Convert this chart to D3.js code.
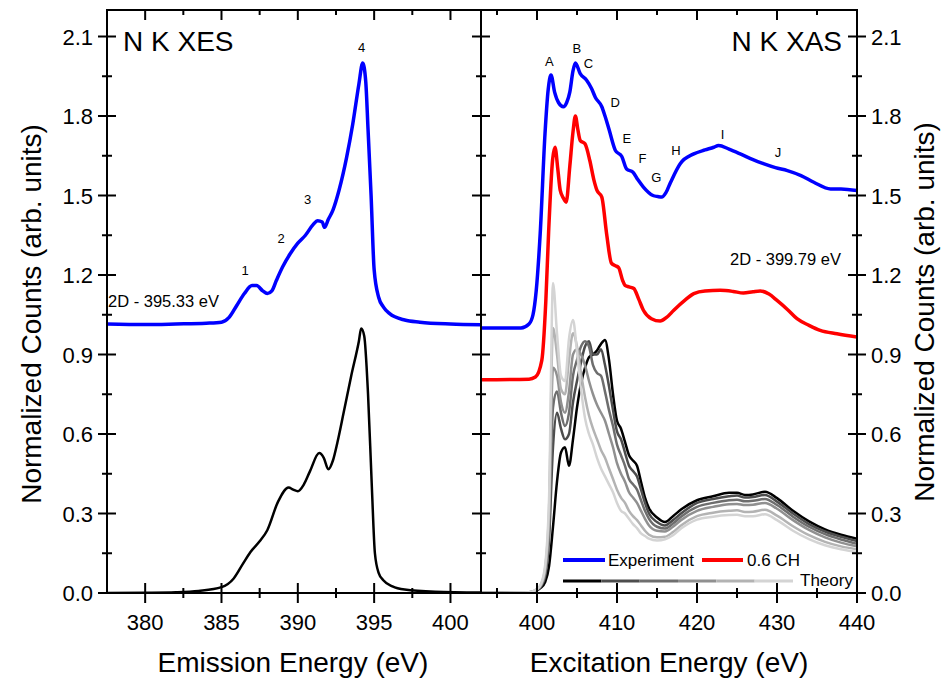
<!DOCTYPE html>
<html>
<head>
<meta charset="utf-8">
<script src="https://cdn.jsdelivr.net/npm/d3@7"></script>
<style>
  body { margin: 0; background: #fff; }
  svg text { font-family: "Liberation Sans", Arial, sans-serif; fill: #000; }
</style>
</head>
<body>
<script>
// ---- data: N K XES (left panel) ----
const xesEnergy = [377.5, 380, 382, 384, 385, 385.5, 386, 386.5, 387, 387.3, 387.7, 388, 388.3, 388.6, 389, 389.5, 390, 390.5, 391, 391.3, 391.6, 391.75, 392, 392.3, 392.7, 393.2, 393.6, 394.0, 394.25, 394.45, 394.6, 394.8, 395.0, 395.3, 395.6, 396, 397, 398, 400, 402];
const xesExperiment = [1.015, 1.013, 1.015, 1.018, 1.022, 1.04, 1.085, 1.13, 1.16, 1.16, 1.14, 1.13, 1.14, 1.18, 1.23, 1.28, 1.32, 1.35, 1.39, 1.405, 1.40, 1.38, 1.41, 1.445, 1.52, 1.645, 1.77, 1.92, 2.0, 1.93, 1.75, 1.5, 1.22, 1.115, 1.08, 1.055, 1.03, 1.022, 1.015, 1.012];

const xesTheoryEnergy = [377.5, 380, 382, 383.5, 385, 385.8, 386.4, 386.9, 387.5, 388, 388.7, 389.4, 389.7, 390, 390.4, 390.8, 391.4, 391.7, 392.0, 392.3, 392.6, 393, 393.5, 394.0, 394.15, 394.35, 394.6, 394.85, 395.05, 395.3, 395.6, 396.2, 397, 399, 402];
const xesTheory = [0, 0.001, 0.003, 0.008, 0.022, 0.055, 0.11, 0.155, 0.195, 0.237, 0.344, 0.398, 0.39, 0.384, 0.41, 0.46, 0.528, 0.51, 0.467, 0.50, 0.57, 0.68, 0.82, 0.95, 0.998, 0.97, 0.75, 0.4, 0.15, 0.075, 0.048, 0.025, 0.013, 0.005, 0.002];

const xesPeakLabels = ["1", "2", "3", "4"];
const xesPeakEnergy = [386.54, 388.9, 390.64, 394.18];
const xesPeakValue = [1.218, 1.338, 1.485, 2.062];

// ---- data: N K XAS (right panel) ----
const xasEnergy = [393, 398, 399, 399.5, 399.9, 400.4, 401, 401.4, 401.75, 402.2, 402.7, 403.3, 403.7, 404.1, 404.5, 404.8, 405.4, 406.2, 406.8, 407.3, 408.1, 408.5, 409, 409.8, 410.6, 411.2, 412, 412.6, 413.3, 414.5, 415.1, 415.6, 416.1, 416.7, 417.9, 419.6, 421, 422.1, 422.7, 424, 425.4, 427, 428.3, 429.8, 431.3, 433, 434.6, 436.7, 438, 440];
const xasExperiment = [1.0, 1.0, 1.015, 1.05, 1.14, 1.356, 1.733, 1.90, 1.955, 1.89, 1.85, 1.835, 1.85, 1.89, 1.97, 2.0, 1.96, 1.935, 1.905, 1.87, 1.835, 1.8, 1.75, 1.67, 1.647, 1.60, 1.588, 1.56, 1.532, 1.50, 1.496, 1.494, 1.51, 1.55, 1.62, 1.657, 1.672, 1.682, 1.689, 1.675, 1.657, 1.635, 1.62, 1.605, 1.594, 1.575, 1.55, 1.525, 1.525, 1.519];

const chEnergy = [393, 399, 399.8, 400.6, 401.1, 401.45, 401.95, 402.25, 402.6, 402.9, 403.3, 403.65, 404.1, 404.5, 404.8, 405.1, 405.4, 406.0, 406.6, 407.1, 407.5, 408.1, 408.7, 409.3, 409.8, 410.2, 410.7, 411.0, 411.5, 412.1, 412.7, 413.3, 414.3, 415.4, 416.2, 417.1, 418.5, 419.6, 421, 422.9, 424.5, 425.8, 427, 427.9, 429, 430, 431.3, 432.5, 434, 435.4, 437.5, 440];
const chValue = [0.805, 0.807, 0.815, 0.878, 1.1, 1.36, 1.635, 1.682, 1.6, 1.52, 1.49, 1.475, 1.61, 1.74, 1.80, 1.75, 1.708, 1.695, 1.632, 1.56, 1.519, 1.494, 1.356, 1.245, 1.235, 1.228, 1.18, 1.161, 1.155, 1.149, 1.11, 1.067, 1.035, 1.026, 1.04, 1.067, 1.105, 1.13, 1.14, 1.142, 1.138, 1.132, 1.137, 1.14, 1.128, 1.104, 1.07, 1.035, 1.01, 0.991, 0.978, 0.966];

const theoryEnergy = [393, 399, 400, 400.5, 401, 401.5, 402, 402.5, 403, 403.5, 404, 404.5, 405, 405.5, 406, 406.5, 407, 407.5, 408, 408.5, 409, 409.5, 410, 410.5, 411, 411.5, 412, 412.5, 413, 413.5, 414, 415, 416, 417, 418, 420, 422, 424, 425, 426, 427, 428.5, 430, 432, 434, 436, 438, 440];
const theory0 = [0, 0.002, 0.01, 0.02, 0.04, 0.10, 0.25, 0.42, 0.53, 0.55, 0.48, 0.58, 0.70, 0.79, 0.85, 0.89, 0.90, 0.915, 0.94, 0.955, 0.88, 0.75, 0.65, 0.62, 0.57, 0.52, 0.50, 0.48, 0.42, 0.36, 0.32, 0.285, 0.268, 0.29, 0.315, 0.35, 0.365, 0.378, 0.378, 0.37, 0.372, 0.382, 0.358, 0.31, 0.27, 0.24, 0.22, 0.205];
const theory1 = [0, 0.002, 0.012, 0.025, 0.06, 0.2, 0.55, 0.68, 0.62, 0.58, 0.60, 0.72, 0.80, 0.87, 0.93, 0.95, 0.90, 0.90, 0.92, 0.86, 0.78, 0.69, 0.61, 0.58, 0.53, 0.48, 0.46, 0.44, 0.39, 0.34, 0.30, 0.268, 0.255, 0.275, 0.30, 0.34, 0.355, 0.365, 0.368, 0.36, 0.362, 0.37, 0.345, 0.30, 0.26, 0.232, 0.212, 0.196];
const theory2 = [0, 0.002, 0.013, 0.028, 0.07, 0.24, 0.70, 0.76, 0.68, 0.63, 0.68, 0.82, 0.88, 0.93, 0.95, 0.93, 0.86, 0.83, 0.82, 0.76, 0.69, 0.63, 0.56, 0.52, 0.48, 0.43, 0.41, 0.39, 0.35, 0.31, 0.28, 0.25, 0.243, 0.262, 0.288, 0.325, 0.34, 0.35, 0.352, 0.346, 0.348, 0.355, 0.332, 0.288, 0.25, 0.222, 0.202, 0.186];
const theory3 = [0, 0.003, 0.013, 0.03, 0.08, 0.27, 0.85, 0.82, 0.72, 0.68, 0.76, 0.90, 0.92, 0.90, 0.86, 0.80, 0.75, 0.71, 0.68, 0.65, 0.60, 0.55, 0.49, 0.45, 0.42, 0.38, 0.36, 0.34, 0.31, 0.28, 0.255, 0.235, 0.232, 0.25, 0.275, 0.31, 0.325, 0.335, 0.336, 0.332, 0.333, 0.34, 0.318, 0.275, 0.238, 0.21, 0.19, 0.176];
const theory4 = [0, 0.003, 0.014, 0.032, 0.09, 0.31, 1.0, 0.90, 0.77, 0.75, 0.88, 0.98, 0.93, 0.83, 0.74, 0.67, 0.62, 0.58, 0.54, 0.51, 0.47, 0.43, 0.39, 0.36, 0.34, 0.31, 0.29, 0.275, 0.255, 0.235, 0.22, 0.21, 0.212, 0.23, 0.255, 0.29, 0.303, 0.31, 0.312, 0.306, 0.307, 0.314, 0.292, 0.252, 0.218, 0.193, 0.176, 0.165];
const theory5 = [0, 0.003, 0.015, 0.035, 0.10, 0.35, 1.17, 0.98, 0.82, 0.80, 0.96, 1.03, 0.91, 0.77, 0.66, 0.60, 0.56, 0.51, 0.47, 0.44, 0.41, 0.38, 0.34, 0.31, 0.30, 0.28, 0.26, 0.245, 0.225, 0.215, 0.205, 0.198, 0.203, 0.218, 0.243, 0.277, 0.288, 0.294, 0.295, 0.29, 0.29, 0.297, 0.275, 0.235, 0.203, 0.18, 0.165, 0.155];
const theoryColors = ["#000000", "#4d4d4d", "#6e6e6e", "#909090", "#b3b3b3", "#d4d4d4"];

const xasPeakLabels = ["A", "B", "C", "D", "E", "F", "G", "H", "I", "J"];
const xasPeakEnergy = [401.55, 404.98, 406.43, 409.77, 411.23, 413.19, 414.9, 417.37, 423.2, 430.13];
const xasPeakValue = [2.006, 2.055, 2.0, 1.852, 1.716, 1.642, 1.569, 1.67, 1.733, 1.663];

// ticks
const yMajor = [0, 0.3, 0.6, 0.9, 1.2, 1.5, 1.8, 2.1];
const yMinor = [0.15, 0.45, 0.75, 1.05, 1.35, 1.65, 1.95];
const xesMajor = [380, 385, 390, 395, 400];
const xesMinor = [382.5, 387.5, 392.5, 397.5];
const xasMajor = [400, 410, 420, 430, 440];
const xasMinor = [395, 405, 415, 425, 435];

// ---- layout ----
const width = 945, height = 682;
const plotTop = 10, plotBottom = 593;
const leftX0 = 107, midX = 481, rightX1 = 857;

const svg = d3.select("body").append("svg")
    .attr("width", width)
    .attr("height", height);

const y = d3.scaleLinear().domain([0, 2.2]).range([plotBottom, plotTop]);
const xL = d3.scaleLinear().domain([377.5, 402]).range([leftX0, midX]);
const xR = d3.scaleLinear().domain([393, 440]).range([midX, rightX1]);

const defs = svg.append("defs");
defs.append("clipPath").attr("id", "clipL").append("rect")
    .attr("x", leftX0).attr("y", plotTop).attr("width", midX - leftX0).attr("height", plotBottom - plotTop);
defs.append("clipPath").attr("id", "clipR").append("rect")
    .attr("x", midX).attr("y", plotTop).attr("width", rightX1 - midX).attr("height", plotBottom - plotTop);

function drawLine(g, xs, ys, xScale, color, w) {
    const pts = xs.map((e, i) => [e, ys[i]]);
    g.append("path")
        .datum(pts)
        .attr("fill", "none")
        .attr("stroke", color)
        .attr("stroke-width", w)
        .attr("stroke-linejoin", "round")
        .attr("stroke-linecap", "round")
        .attr("d", d3.line().x(d => xScale(d[0])).y(d => y(d[1])).curve(d3.curveMonotoneX));
}

// left panel curves
const gL = svg.append("g").attr("clip-path", "url(#clipL)");
drawLine(gL, xesTheoryEnergy, xesTheory, xL, "#000", 2.5);
drawLine(gL, xesEnergy, xesExperiment, xL, "#0000ff", 3.5);

// right panel curves
const gR = svg.append("g").attr("clip-path", "url(#clipR)");
const theoryCurves = [theory0, theory1, theory2, theory3, theory4, theory5];
theoryCurves.forEach((c, i) => drawLine(gR, theoryEnergy, c, xR, theoryColors[i], 2.5));
drawLine(gR, chEnergy, chValue, xR, "#ff0000", 3.5);
drawLine(gR, xasEnergy, xasExperiment, xR, "#0000ff", 3.5);

// frames
const frame = svg.append("g").attr("fill", "none").attr("stroke", "#000").attr("stroke-width", 2);
frame.append("rect").attr("x", leftX0).attr("y", plotTop).attr("width", midX - leftX0).attr("height", plotBottom - plotTop);
frame.append("rect").attr("x", midX).attr("y", plotTop).attr("width", rightX1 - midX).attr("height", plotBottom - plotTop);

// ticks
const tk = svg.append("g").attr("stroke", "#000").attr("stroke-width", 2);
function xTicks(scale, vals, len) {
    tk.selectAll(null).data(vals).join("line")
        .attr("x1", d => scale(d)).attr("x2", d => scale(d))
        .attr("y1", plotBottom - len).attr("y2", plotBottom + len);
    tk.selectAll(null).data(vals).join("line")
        .attr("x1", d => scale(d)).attr("x2", d => scale(d))
        .attr("y1", plotTop).attr("y2", plotTop + len);
}
xTicks(xL, xesMajor, 10);
xTicks(xL, xesMinor, 5);
xTicks(xR, xasMajor, 10);
xTicks(xR, xasMinor, 5);
[leftX0, midX, rightX1].forEach(ax => {
    tk.selectAll(null).data(yMajor).join("line")
        .attr("x1", ax - 9).attr("x2", ax + 9)
        .attr("y1", d => y(d)).attr("y2", d => y(d));
    tk.selectAll(null).data(yMinor).join("line")
        .attr("x1", ax - 5).attr("x2", ax + 5)
        .attr("y1", d => y(d)).attr("y2", d => y(d));
});

// tick labels
const fmt = d3.format(".1f");
svg.append("g").selectAll("text").data(yMajor).join("text")
    .attr("x", 93).attr("y", d => y(d) + 8)
    .attr("text-anchor", "end").attr("font-size", 22)
    .text(fmt);
svg.append("g").selectAll("text").data(yMajor).join("text")
    .attr("x", 871).attr("y", d => y(d) + 8)
    .attr("text-anchor", "start").attr("font-size", 22)
    .text(fmt);
svg.append("g").selectAll("text").data(xesMajor).join("text")
    .attr("x", d => xL(d)).attr("y", 630)
    .attr("text-anchor", "middle").attr("font-size", 22)
    .text(d => d);
svg.append("g").selectAll("text").data(xasMajor).join("text")
    .attr("x", d => xR(d)).attr("y", 630)
    .attr("text-anchor", "middle").attr("font-size", 22)
    .text(d => d);

// axis titles
svg.append("text").attr("x", 293).attr("y", 672).attr("text-anchor", "middle")
    .attr("font-size", 28).text("Emission Energy (eV)");
svg.append("text").attr("x", 669).attr("y", 672).attr("text-anchor", "middle")
    .attr("font-size", 28).text("Excitation Energy (eV)");
svg.append("text").attr("transform", "translate(41,314) rotate(-90)").attr("text-anchor", "middle")
    .attr("font-size", 28).text("Normalized Counts (arb. units)");
svg.append("text").attr("transform", "translate(934,312) rotate(-90)").attr("text-anchor", "middle")
    .attr("font-size", 28).text("Normalized Counts (arb. units)");

// panel titles and notes
svg.append("text").attr("x", 123).attr("y", 51).attr("font-size", 28).text("N K XES");
svg.append("text").attr("x", 842).attr("y", 51).attr("text-anchor", "end").attr("font-size", 28).text("N K XAS");
svg.append("text").attr("x", 108).attr("y", 307).attr("font-size", 16.5).text("2D - 395.33 eV");
svg.append("text").attr("x", 841).attr("y", 265).attr("text-anchor", "end").attr("font-size", 16.5).text("2D - 399.79 eV");

// peak labels
svg.append("g").selectAll("text").data(xesPeakLabels).join("text")
    .attr("x", (d, i) => xL(xesPeakEnergy[i])).attr("y", (d, i) => y(xesPeakValue[i]) + 5)
    .attr("text-anchor", "middle").attr("font-size", 13).attr("fill", "#222")
    .text(d => d);
svg.append("g").selectAll("text").data(xasPeakLabels).join("text")
    .attr("x", (d, i) => xR(xasPeakEnergy[i])).attr("y", (d, i) => y(xasPeakValue[i]) + 5)
    .attr("text-anchor", "middle").attr("font-size", 13).attr("fill", "#222")
    .text(d => d);

// legend
const lg = svg.append("g");
lg.append("line").attr("x1", 563).attr("x2", 605).attr("y1", 560).attr("y2", 560)
    .attr("stroke", "#0000ff").attr("stroke-width", 4);
lg.append("text").attr("x", 608).attr("y", 566).attr("font-size", 17).text("Experiment");
lg.append("line").attr("x1", 702).attr("x2", 743).attr("y1", 560).attr("y2", 560)
    .attr("stroke", "#ff0000").attr("stroke-width", 4);
lg.append("text").attr("x", 747).attr("y", 566).attr("font-size", 17).text("0.6 CH");
const segW = (793 - 563) / theoryColors.length;
lg.selectAll(null).data(theoryColors).join("line")
    .attr("x1", (d, i) => 563 + i * segW).attr("x2", (d, i) => 563 + (i + 1) * segW)
    .attr("y1", 581).attr("y2", 581)
    .attr("stroke", d => d).attr("stroke-width", 3);
lg.append("text").attr("x", 800).attr("y", 586).attr("font-size", 17).text("Theory");
</script>
</body>
</html>
